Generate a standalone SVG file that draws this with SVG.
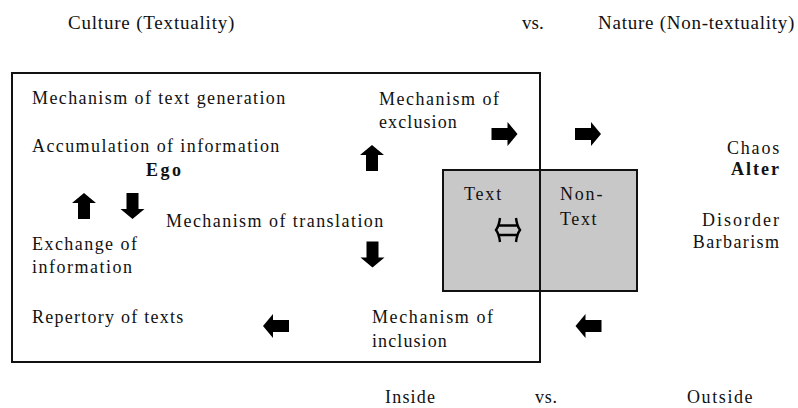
<svg xmlns="http://www.w3.org/2000/svg" width="798" height="408" viewBox="0 0 798 408">
<rect width="798" height="408" fill="#fff"/>
<g id="header" fill="#111">
<text font-family="Liberation Serif" font-size="19" letter-spacing="0.8" x="68" y="29">Culture (Textuality)</text>
<text font-family="Liberation Serif" font-size="19" x="522" y="29">vs.</text>
<text font-family="Liberation Serif" font-size="19" letter-spacing="0.75" x="598" y="29">Nature (Non-textuality)</text>
</g>
<g id="culture-box"><rect x="12" y="73" width="528" height="289" fill="none" stroke="#111" stroke-width="2"/></g>
<g id="text-box">
<rect x="443" y="170" width="194" height="121" fill="#c8c8c8" stroke="#111" stroke-width="2"/>
<line x1="540" y1="170" x2="540" y2="291" stroke="#111" stroke-width="2"/>
</g>
<g id="text-generation" fill="#111"><text font-family="Liberation Serif" font-size="18" letter-spacing="1.4" x="32" y="104">Mechanism of text generation</text></g>
<g id="accumulation" fill="#111"><text font-family="Liberation Serif" font-size="18" letter-spacing="1.4" x="32" y="152">Accumulation of information</text></g>
<g id="ego" fill="#111"><text font-family="Liberation Serif" font-size="18" font-weight="bold" letter-spacing="2.5" x="146" y="176">Ego</text></g>
<g id="exclusion" fill="#111">
<text font-family="Liberation Serif" font-size="18" letter-spacing="1.5" x="379" y="105">Mechanism of</text>
<text font-family="Liberation Serif" font-size="18" letter-spacing="1.1" x="379" y="128">exclusion</text>
</g>
<g id="translation" fill="#111"><text font-family="Liberation Serif" font-size="18" letter-spacing="1.45" x="166" y="227">Mechanism of translation</text></g>
<g id="exchange" fill="#111">
<text font-family="Liberation Serif" font-size="18" letter-spacing="1.45" x="32" y="250">Exchange of</text>
<text font-family="Liberation Serif" font-size="18" letter-spacing="1.5" x="32" y="273">information</text>
</g>
<g id="repertory" fill="#111"><text font-family="Liberation Serif" font-size="18" letter-spacing="1.25" x="32" y="323">Repertory of texts</text></g>
<g id="inclusion" fill="#111">
<text font-family="Liberation Serif" font-size="18" letter-spacing="1.6" x="372" y="323">Mechanism of</text>
<text font-family="Liberation Serif" font-size="18" letter-spacing="1.1" x="372" y="347">inclusion</text>
</g>
<g id="text-label" fill="#111"><text font-family="Liberation Serif" font-size="18" letter-spacing="1.8" x="464" y="200">Text</text></g>
<g id="non-text-label" fill="#111">
<text font-family="Liberation Serif" font-size="18" letter-spacing="1.8" x="560" y="200">Non-</text>
<text font-family="Liberation Serif" font-size="18" letter-spacing="1.6" x="560" y="225">Text</text>
</g>
<g id="alter" fill="#111">
<text font-family="Liberation Serif" font-size="18" letter-spacing="1.8" x="781" y="154" text-anchor="end">Chaos</text>
<text font-family="Liberation Serif" font-size="18" font-weight="bold" letter-spacing="2" x="781" y="175" text-anchor="end">Alter</text>
<text font-family="Liberation Serif" font-size="18" letter-spacing="2" x="781" y="226" text-anchor="end">Disorder</text>
<text font-family="Liberation Serif" font-size="18" letter-spacing="1.4" x="780.4" y="248" text-anchor="end">Barbarism</text>
</g>
<g id="footer" fill="#111">
<text font-family="Liberation Serif" font-size="18" letter-spacing="1.2" x="385" y="403">Inside</text>
<text font-family="Liberation Serif" font-size="18" letter-spacing="0.7" x="535" y="403">vs.</text>
<text font-family="Liberation Serif" font-size="18" letter-spacing="1.6" x="687" y="403">Outside</text>
</g>
<g id="connectors" fill="#000">
<path d="M-13,-6 H3 V-12 L13,0 L3,12 V6 H-13 Z" transform="translate(504.5,134)"/>
<path d="M-13,-6 H3 V-12 L13,0 L3,12 V6 H-13 Z" transform="translate(588,134)"/>
<path d="M-13,-6 H3 V-12 L13,0 L3,12 V6 H-13 Z" transform="translate(372,158) rotate(-90)"/>
<path d="M-13,-6 H3 V-12 L13,0 L3,12 V6 H-13 Z" transform="translate(84,206) rotate(-90)"/>
<path d="M-13,-6 H3 V-12 L13,0 L3,12 V6 H-13 Z" transform="translate(132.5,206) rotate(90)"/>
<path d="M-13,-6 H3 V-12 L13,0 L3,12 V6 H-13 Z" transform="translate(372.5,254.5) rotate(90)"/>
<path d="M-13,-6 H3 V-12 L13,0 L3,12 V6 H-13 Z" transform="translate(276,326) rotate(180)"/>
<path d="M-13,-6 H3 V-12 L13,0 L3,12 V6 H-13 Z" transform="translate(588.5,326) rotate(180)"/>
<path d="M500,218 Q499,226 496,230 Q499,234 500,242 M516,218 Q517,226 520,230 Q517,234 516,242 M498,225.5 H518 M498,235 H518" fill="none" stroke="#000" stroke-width="2.4"/>
</g>
</svg>
